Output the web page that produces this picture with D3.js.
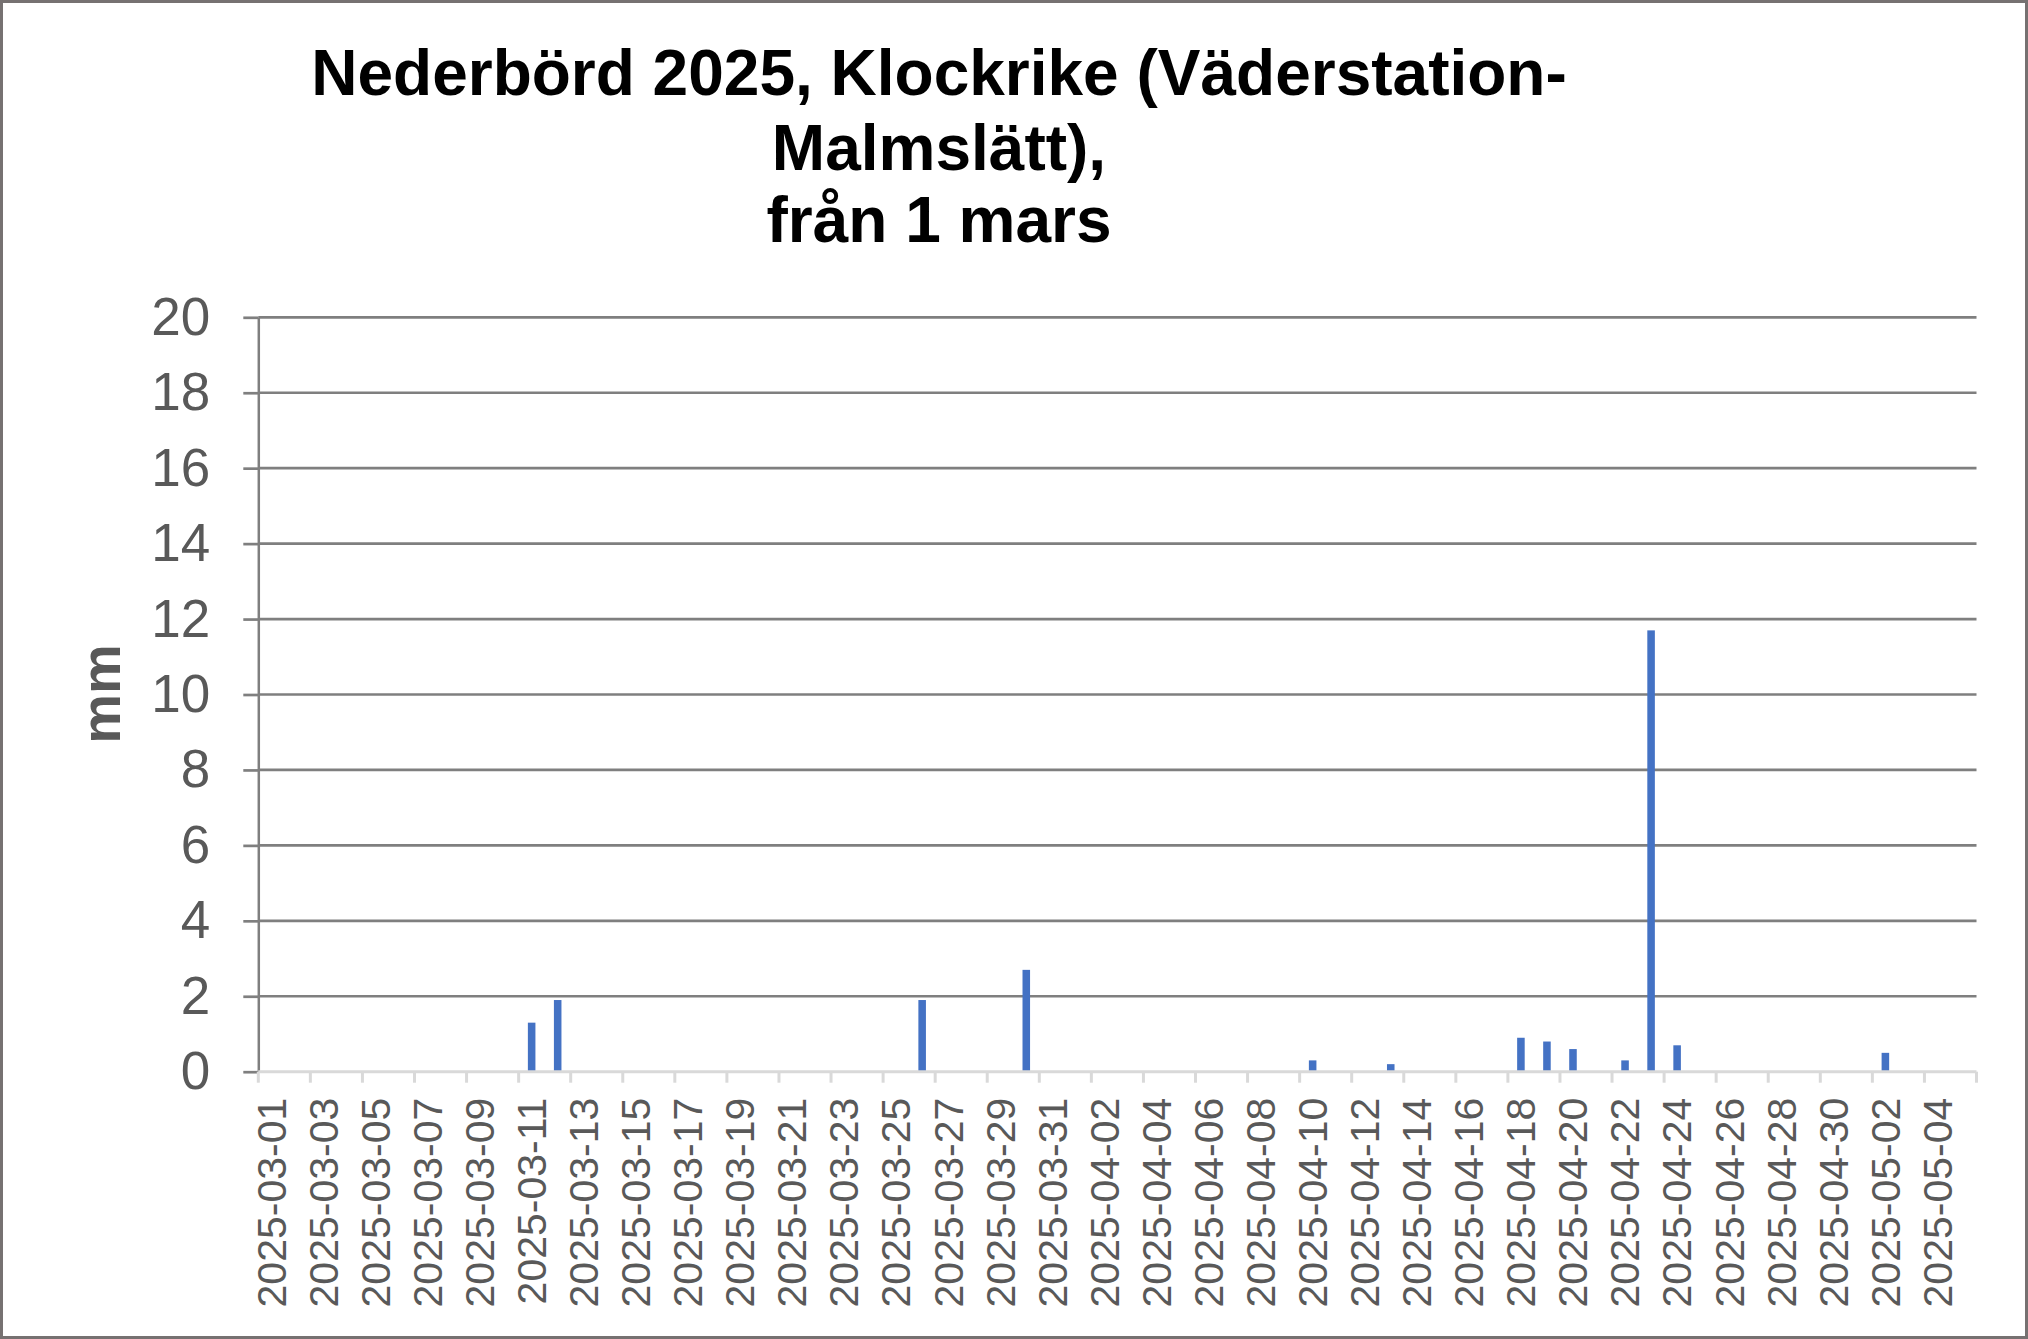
<!DOCTYPE html>
<html>
<head>
<meta charset="utf-8">
<script src="https://cdn.jsdelivr.net/npm/d3@7/dist/d3.min.js"></script>
<style>
  html, body { margin: 0; padding: 0; background: #fff; }
  svg { display: block; }
</style>
</head>
<body>
<svg id="chart" width="2028" height="1339"></svg>
<script>
// ---- Data ----
const titleLines = ["Nederbörd 2025, Klockrike (Väderstation-", "Malmslätt),", "från 1 mars"];
const yAxisLabel = "mm";
const categories = [
  "2025-03-01","2025-03-02","2025-03-03","2025-03-04","2025-03-05","2025-03-06","2025-03-07","2025-03-08",
  "2025-03-09","2025-03-10","2025-03-11","2025-03-12","2025-03-13","2025-03-14","2025-03-15","2025-03-16",
  "2025-03-17","2025-03-18","2025-03-19","2025-03-20","2025-03-21","2025-03-22","2025-03-23","2025-03-24",
  "2025-03-25","2025-03-26","2025-03-27","2025-03-28","2025-03-29","2025-03-30","2025-03-31",
  "2025-04-01","2025-04-02","2025-04-03","2025-04-04","2025-04-05","2025-04-06","2025-04-07","2025-04-08",
  "2025-04-09","2025-04-10","2025-04-11","2025-04-12","2025-04-13","2025-04-14","2025-04-15","2025-04-16",
  "2025-04-17","2025-04-18","2025-04-19","2025-04-20","2025-04-21","2025-04-22","2025-04-23","2025-04-24",
  "2025-04-25","2025-04-26","2025-04-27","2025-04-28","2025-04-29","2025-04-30",
  "2025-05-01","2025-05-02","2025-05-03","2025-05-04","2025-05-05"
];
const precipitation = [
  0,0,0,0,0,0,0,0, 0,0,1.3,1.9,0,0,0,0,
  0,0,0,0,0,0,0,0, 0,1.9,0,0,0,2.7,0,
  0,0,0,0,0,0,0,0, 0,0.3,0,0,0.2,0,0,0,
  0,0.9,0.8,0.6,0,0.3,11.7,0.7, 0,0,0,0,0,0,
  0,0.5,0,0,0
];
const yTicks = [0,2,4,6,8,10,12,14,16,18,20];

// ---- Layout ----
const W = 2028, H = 1339;
const plot = { left: 258.3, right: 1976.5, top: 317.3, bottom: 1071.7 };
const font = "'Liberation Sans', Arial, Helvetica, sans-serif";
const gridColor = "#7f7f7f";
const axisLight = "#d9d9d9";
const textColor = "#595959";
const barColor = "#4472C4";

const svg = d3.select("#chart");

svg.append("rect").attr("x", 0).attr("y", 0).attr("width", W).attr("height", H).attr("fill", "#fff");

const x = d3.scaleBand().domain(categories).range([plot.left, plot.right])
  .paddingInner(0.71).paddingOuter(0.355);
const y = d3.scaleLinear().domain([0, 20]).range([plot.bottom, plot.top]);
const step = x.step();
const bandStart = i => plot.left + i * step;

// Gridlines
svg.append("g").selectAll("line").data(yTicks.filter(d => d > 0)).join("line")
  .attr("x1", plot.left).attr("x2", plot.right)
  .attr("y1", d => y(d)).attr("y2", d => y(d))
  .attr("stroke", gridColor).attr("stroke-width", 2.7);

// Bars
svg.append("g").selectAll("rect").data(categories.map((c, i) => ({ c, v: precipitation[i] })).filter(d => d.v > 0))
  .join("rect")
  .attr("x", d => x(d.c)).attr("width", x.bandwidth())
  .attr("y", d => y(d.v)).attr("height", d => y(0) - y(d.v))
  .attr("fill", barColor);

// Y axis
const yAxis = d3.axisLeft(y).tickValues(yTicks).tickSize(15).tickSizeOuter(0).tickPadding(33);
const gy = svg.append("g").attr("transform", `translate(${plot.left},0)`).call(yAxis);
gy.select(".domain").attr("stroke", gridColor).attr("stroke-width", 2.5);
gy.selectAll(".tick line").attr("stroke", gridColor).attr("stroke-width", 2.7);
gy.selectAll(".tick text").attr("fill", textColor).style("font-family", font).style("font-size", "53px");

// X axis tick marks at category boundaries (every 2 categories)
const tickIdx = d3.range(0, categories.length + 1, 2);
svg.append("g").selectAll("line").data(tickIdx).join("line")
  .attr("x1", d => bandStart(d)).attr("x2", d => bandStart(d))
  .attr("y1", plot.bottom).attr("y2", plot.bottom + 11)
  .attr("stroke", axisLight).attr("stroke-width", 3);

// X axis labels
const labelCats = categories.filter((c, i) => i % 2 === 0);
const xAxis = d3.axisBottom(x).tickValues(labelCats).tickSize(0).tickSizeOuter(0).tickPadding(0);
const gx = svg.append("g").attr("transform", `translate(0,${plot.bottom})`).call(xAxis);
gx.select(".domain").remove();
gx.selectAll(".tick text")
  .attr("transform", "rotate(-90)")
  .attr("x", -26).attr("y", 0).attr("dy", "0.35em")
  .attr("text-anchor", "end")
  .attr("fill", textColor).style("font-family", font).style("font-size", "41px");

// X axis baseline
svg.append("line").attr("x1", plot.left).attr("x2", plot.right)
  .attr("y1", plot.bottom).attr("y2", plot.bottom)
  .attr("stroke", axisLight).attr("stroke-width", 3);

// Y axis title
svg.append("text").attr("transform", "translate(120,694) rotate(-90)")
  .attr("text-anchor", "middle").attr("fill", textColor)
  .style("font-family", font).style("font-size", "56px").style("font-weight", "bold")
  .text(yAxisLabel);

// Title
const baselines = [95, 170, 242];
svg.append("g").selectAll("text").data(titleLines).join("text")
  .attr("x", 939).attr("y", (d, i) => baselines[i])
  .attr("text-anchor", "middle").attr("fill", "#000")
  .style("font-family", font).style("font-size", "64px").style("font-weight", "bold")
  .text(d => d);

// Outer border
svg.append("rect").attr("x", 1.5).attr("y", 1.5).attr("width", W - 3).attr("height", H - 3)
  .attr("fill", "none").attr("stroke", "#767171").attr("stroke-width", 3);
</script>
</body>
</html>
